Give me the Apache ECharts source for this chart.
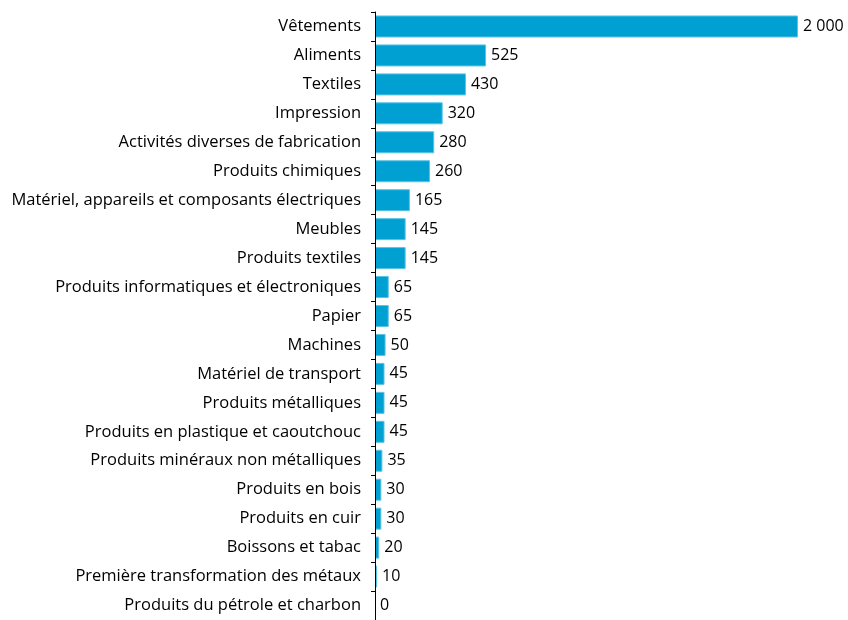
<!DOCTYPE html>
<html>
<head>
<meta charset="utf-8">
<script src="https://cdn.jsdelivr.net/npm/echarts@6/dist/echarts.min.js"></script>
<style>
  html, body { margin: 0; padding: 0; background: #fff; }
  #chart { width: 848px; height: 620px; }
</style>
</head>
<body>
<div id="chart"></div>
<script>
// categories, top to bottom
var categories = [
  'Vêtements',
  'Aliments',
  'Textiles',
  'Impression',
  'Activités diverses de fabrication',
  'Produits chimiques',
  'Matériel, appareils et composants électriques',
  'Meubles',
  'Produits textiles',
  'Produits informatiques et électroniques',
  'Papier',
  'Machines',
  'Matériel de transport',
  'Produits métalliques',
  'Produits en plastique et caoutchouc',
  'Produits minéraux non métalliques',
  'Produits en bois',
  'Produits en cuir',
  'Boissons et tabac',
  'Première transformation des métaux',
  'Produits du pétrole et charbon'
]
var values = [2000, 525, 430, 320, 280, 260, 165, 145, 145, 65, 65, 50, 45, 45, 45, 35, 30, 30, 20, 10, 0]

var fontFamily = '"Open Sans", "Noto Sans", sans-serif'

var fmt = function (v) {
  return String(v).replace(/\B(?=(\d{3})+(?!\d))/g, ' ')
}

// no border on empty bars, so nothing shows over the axis
var barData = values.map(function (v) {
  return v === 0 ? { value: v, itemStyle: { borderWidth: 0 } } : v
})

var option = {
  animation: false,
  grid: {
    left: 375,
    top: 12,
    width: 423,
    height: 609
  },
  xAxis: {
    type: 'value',
    min: 0,
    max: 2000,
    show: false
  },
  yAxis: {
    type: 'category',
    inverse: true,
    data: categories,
    axisLine: { show: true, lineStyle: { color: '#000', width: 1 } },
    axisTick: { show: true, length: 4, lineStyle: { color: '#000' } },
    axisLabel: {
      color: '#000',
      fontSize: 16.5,
      fontFamily: fontFamily,
      margin: 14
    },
    splitLine: { show: false },
    z: 3
  },
  series: [
    {
      type: 'bar',
      data: barData,
      barCategoryGap: '24%',
      itemStyle: {
        color: '#00A0D2',
        borderColor: '#5BC3E6',
        borderWidth: 1
      },
      label: {
        show: true,
        position: 'right',
        distance: 5,
        color: '#000',
        fontSize: 16,
        fontFamily: fontFamily,
        formatter: function (p) { return fmt(p.value) }
      }
    }
  ]
}

var chart = echarts.init(document.getElementById('chart'))
chart.setOption(option)
</script>
</body>
</html>
